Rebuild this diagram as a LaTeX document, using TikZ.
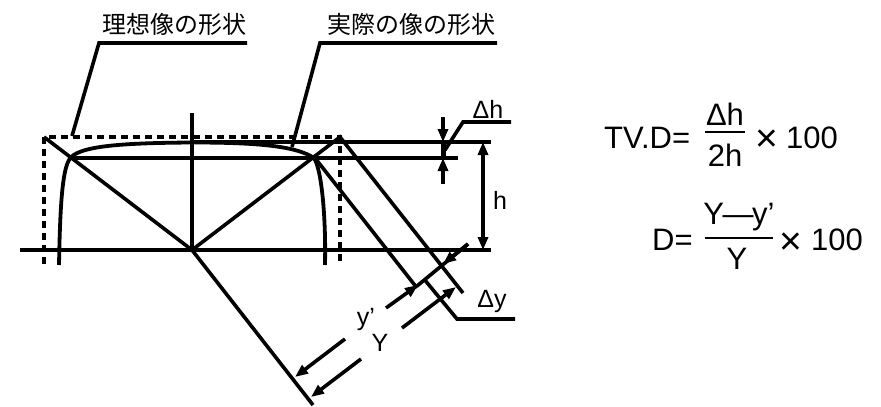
\documentclass[tikz,border=0pt]{standalone}
\usepackage{fontspec}
\setmainfont{Liberation Sans}
\newfontfamily\cjk{Noto Sans CJK JP}
\usetikzlibrary{arrows.meta}
\tikzset{
  ln/.style={line width=3.6pt,black},
  dsh/.style={line width=3.3pt,dash pattern=on 7pt off 5pt},
  arr/.style={line width=3.6pt,-{Triangle[length=13pt,width=10pt]}},
  darr/.style={line width=3.6pt,{Triangle[length=13pt,width=10pt]}-{Triangle[length=13pt,width=10pt]}},
  lab/.style={inner sep=0pt,font=\fontsize{25}{25}\selectfont},
  jlab/.style={inner sep=0pt,font=\cjk\fontsize{24}{24}\selectfont},
  eq/.style={inner sep=0pt,font=\fontsize{31}{31}\selectfont},
  times/.style={inner sep=0pt,font=\fontsize{39}{39}\selectfont}
}
\begin{document}
\begin{tikzpicture}[x=1pt,y=-1pt]
\useasboundingbox (0,0) rectangle (881,407);
% dashed ideal image
\coordinate (dtl) at (44,137);
\coordinate (dtr) at (340,137);
\draw[dsh] (44,264) -- (dtl) -- (dtr) -- (340,264);
% axes
\coordinate (o) at (192,250);
\draw[ln] (20,250) -- (491,250);
\draw[ln] (192,113) -- (o);
\draw[ln] (70,158) -- (458,158);
\draw[ln] (192,142) -- (491,142);
% rays
\coordinate (pr) at (315,158);
\draw[ln] (dtl) -- (o) -- (313,405);
\draw[ln] (o) -- (dtr) -- (463,293);
\draw[ln] (pr) -- (417,288);
\draw[ln] (424,279) -- (457,319) -- (515,319);
% actual image curve
\draw[line width=3.8pt] (59,265) .. controls (60,210) and (62,172) .. (69,160)
  .. controls (76,146) and (120,143) .. (192,142.5)
  .. controls (250,142.5) and (295,145) .. (314,158)
  .. controls (322,170) and (326,220) .. (325,265);
% leaders
\node[jlab,anchor=west] (t1) at (102,24) {理想像の形状};
\node[jlab,anchor=west] (t2) at (327,24) {実際の像の形状};
\draw[ln] (247,43) -- (99,43) -- (72,136);
\draw[ln] (497,43) -- (320,43) -- (292,147);
% Delta h
\draw[arr] (443,117) -- (443,142);
\draw[arr] (443,184) -- (443,158);
\draw[line width=5pt] (443,142) -- (443,158);
\draw[ln] (445,150) -- (463,122) -- (511,122);
\node[lab] (dh) at (488,109) {Δh};
% h
\draw[darr] (483,142) -- (483,250);
\node[lab] (hh) at (500,200) {h};
% diagonals arrows
\draw[ln] (468,244) -- (417,286);
\draw[arr] (468,244) -- (443,264);
\draw[arr] (386,308) -- (418,285);
\draw[arr] (345,339) -- (295,377);
\draw[arr] (402,328) -- (456,287);
\draw[arr] (361,359) -- (311,397);
\node[lab] (yp) at (366,319) {y’};
\node[lab] (yy) at (380,343) {Y};
\node[lab] (dy) at (492,301) {Δy};
% formulas
\node[eq,anchor=west] (f1) at (604,138) {TV.D=};
\node[eq] (f1n) at (725,114) {Δh};
\draw[line width=2pt] (705,132) -- (745,132);
\node[eq] (f1d) at (725,155) {2h};
\node[times] (f1x) at (767,141) {×};
\node[eq,anchor=west] (f1r) at (786,138) {100};
\node[eq,anchor=west] (f2) at (652,240) {D=};
\node[eq] (f2n) at (739,217) {Y\kern-1.5pt—\kern-1.5pt y’};
\draw[line width=2pt] (705,238) -- (773,238);
\node[eq] (f2d) at (737,259) {Y};
\node[times] (f2x) at (791,244) {×};
\node[eq,anchor=west] (f2r) at (811,240) {100};
\end{tikzpicture}
\end{document}
